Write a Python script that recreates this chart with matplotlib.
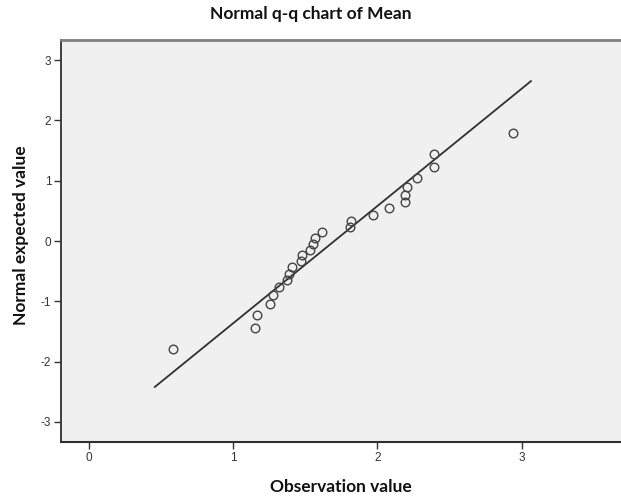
import matplotlib
matplotlib.use("Agg")
import matplotlib.pyplot as plt

observed = [0.579, 1.150, 1.166, 1.256, 1.277, 1.318, 1.370, 1.386, 1.409,
            1.469, 1.478, 1.529, 1.554, 1.566, 1.615, 1.809, 1.818, 1.971,
            2.080, 2.189, 2.189, 2.203, 2.276, 2.392, 2.394, 2.942]
expected = [-1.786, -1.448, -1.222, -1.045, -0.893, -0.766, -0.650, -0.539,
            -0.429, -0.332, -0.235, -0.144, -0.048, 0.048, 0.144, 0.235,
            0.332, 0.429, 0.539, 0.650, 0.766, 0.893, 1.045, 1.222, 1.448,
            1.786]
# Reference line end points
ref_x = [0.45, 3.07]
ref_y = [-2.43, 2.66]

x_ticks = [0, 1, 2, 3]
y_ticks = [-3, -2, -1, 0, 1, 2, 3]

title = "Normal q-q chart of Mean"
x_label = "Observation value"
y_label = "Normal expected value"

W, H = 621, 497
fig = plt.figure(figsize=(W / 100, H / 100), dpi=100)
fig.patch.set_facecolor("white")
left, right, top, bottom = 61, 621, 40, 442
ax = fig.add_axes([left / W, 1 - bottom / H, (right - left) / W, (bottom - top) / H])
ax.set_facecolor("#f0f0f0")

ax.plot(ref_x, ref_y, color="#303030", lw=1.3, solid_capstyle="butt", zorder=2)
ax.plot(observed, expected, linestyle="none", marker="o", markersize=6.2,
        markerfacecolor="none", markeredgecolor="#444444", markeredgewidth=1.0,
        zorder=3)

ax.set_xlim(-0.196, 3.69)
ax.set_ylim(-3.333, 3.333)
ax.set_xticks(x_ticks)
ax.set_yticks(y_ticks)
ax.set_xticklabels([str(t) for t in x_ticks])
ax.set_yticklabels([str(t) for t in y_ticks])
ax.tick_params(axis="both", direction="out", length=5, width=1, color="#333333",
               labelsize=8.5, labelcolor="#333333", pad=2)
for lab in ax.get_xticklabels() + ax.get_yticklabels():
    lab.set_family(["Liberation Sans", "DejaVu Sans"])

ax.spines["right"].set_visible(False)
ax.spines["top"].set_color("#808080")
ax.spines["top"].set_linewidth(2.0)
ax.spines["left"].set_color("#303030")
ax.spines["left"].set_linewidth(1.3)
ax.spines["bottom"].set_color("#303030")
ax.spines["bottom"].set_linewidth(1.5)

fig.text(0.5, 1 - 14 / H, title, ha="center", va="center", fontsize=12.5,
         fontweight="bold", family=["Lato", "DejaVu Sans"], color="#111111")
fig.text(341 / W, 1 - 487 / H, x_label, ha="center", va="center", fontsize=12.5,
         fontweight="bold", family=["Lato", "DejaVu Sans"], color="#111111")
fig.text(21 / W, 1 - 235 / H, y_label, ha="center", va="center", fontsize=12.5,
         fontweight="bold", rotation=90, family=["Lato", "DejaVu Sans"],
         color="#111111")

fig.savefig("out.png", dpi=100, facecolor="white")
